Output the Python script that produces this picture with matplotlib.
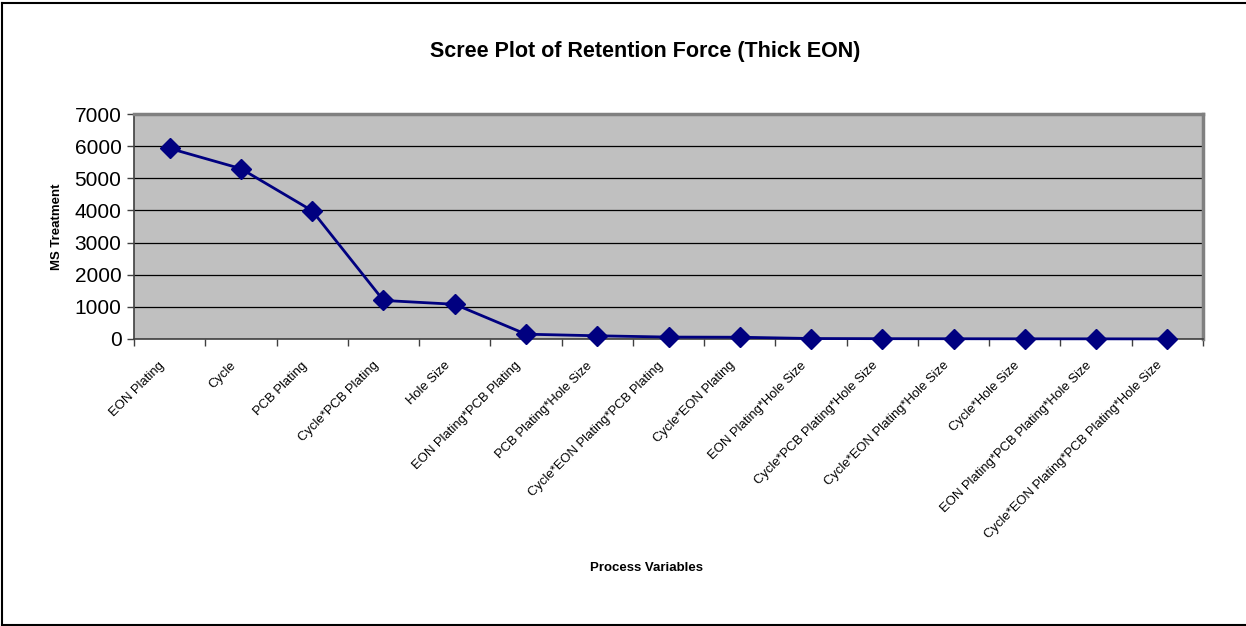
import matplotlib.pyplot as plt
from matplotlib.lines import Line2D
from matplotlib.transforms import ScaledTranslation

plt.rcParams['font.family'] = ['Liberation Sans', 'DejaVu Sans']

# Factores del diseño y su cuadrado medio
factores = ["EON Plating", "Cycle", "PCB Plating", "Cycle*PCB Plating", "Hole Size",
            "EON Plating*PCB Plating", "PCB Plating*Hole Size", "Cycle*EON Plating*PCB Plating",
            "Cycle*EON Plating", "EON Plating*Hole Size", "Cycle*PCB Plating*Hole Size",
            "Cycle*EON Plating*Hole Size", "Cycle*Hole Size", "EON Plating*PCB Plating*Hole Size",
            "Cycle*EON Plating*PCB Plating*Hole Size"]
ms_tratamiento = [5930, 5300, 3990, 1200, 1080, 150, 100, 60, 55, 15, 10, 8, 6, 5, 3]

fig = plt.figure(figsize=(12.46, 6.26), dpi=100)
ax = fig.add_axes([134 / 1246, 1 - 339 / 626, (1203 - 134) / 1246, (339 - 114) / 626])

x = list(range(len(factores)))
ax.plot(x, ms_tratamiento, color='#000080', lw=2, marker='D', markersize=10.5,
        markeredgecolor='#000080', zorder=3, clip_on=False)

ax.set_facecolor('#C0C0C0')
ax.set_xlim(-0.5, len(factores) - 0.5)
ax.set_ylim(0, 7000)
ax.set_yticks(range(0, 7001, 1000))
ax.yaxis.grid(True, color='black', lw=0.9)
ax.set_axisbelow(True)

ax.set_xticks(x)
ax.set_xticklabels(factores, rotation=45, ha='right', va='top', rotation_mode='anchor',
                   fontsize=9.4)
ax.tick_params(axis='x', length=0, pad=10)
desplaza = ScaledTranslation(-0.11, -0.065, fig.dpi_scale_trans)
for etiqueta in ax.get_xticklabels():
    etiqueta.set_transform(etiqueta.get_transform() + desplaza)
ax.set_xticks([i - 0.5 for i in range(len(factores) + 1)], minor=True)
ax.tick_params(axis='x', which='minor', length=5, width=1, color='#404040')
ax.tick_params(axis='y', labelsize=15, length=5, width=1, color='#404040', pad=4)

for lado in ['left', 'bottom']:
    ax.spines[lado].set_color('#404040')
    ax.spines[lado].set_linewidth(1.2)
for lado in ['top', 'right']:
    ax.spines[lado].set_color('#808080')
    ax.spines[lado].set_linewidth(2.5)

fig.text(645 / 1246, 1 - 52 / 626, "Scree Plot of Retention Force (Thick EON)",
         ha='center', va='center', fontsize=15.5, fontweight='bold')
fig.text(57 / 1246, 1 - 227 / 626, "MS Treatment", ha='center', va='center',
         rotation=90, fontsize=9.5, fontweight='bold')
fig.text(646 / 1246, 1 - 568 / 626, "Process Variables", ha='center', va='center',
         fontsize=9.5, fontweight='bold')

# Marco exterior
fig.add_artist(Line2D([2.5 / 1246, 2.5 / 1246], [1 - 624.5 / 626, 1 - 2.5 / 626],
                      transform=fig.transFigure, color='black', lw=1.5))
fig.add_artist(Line2D([2.5 / 1246, 1], [1 - 2.5 / 626, 1 - 2.5 / 626],
                      transform=fig.transFigure, color='black', lw=1.5))
fig.add_artist(Line2D([2.5 / 1246, 1], [1 - 624.5 / 626, 1 - 624.5 / 626],
                      transform=fig.transFigure, color='black', lw=1.5))

fig.savefig("out.png", dpi=100)
